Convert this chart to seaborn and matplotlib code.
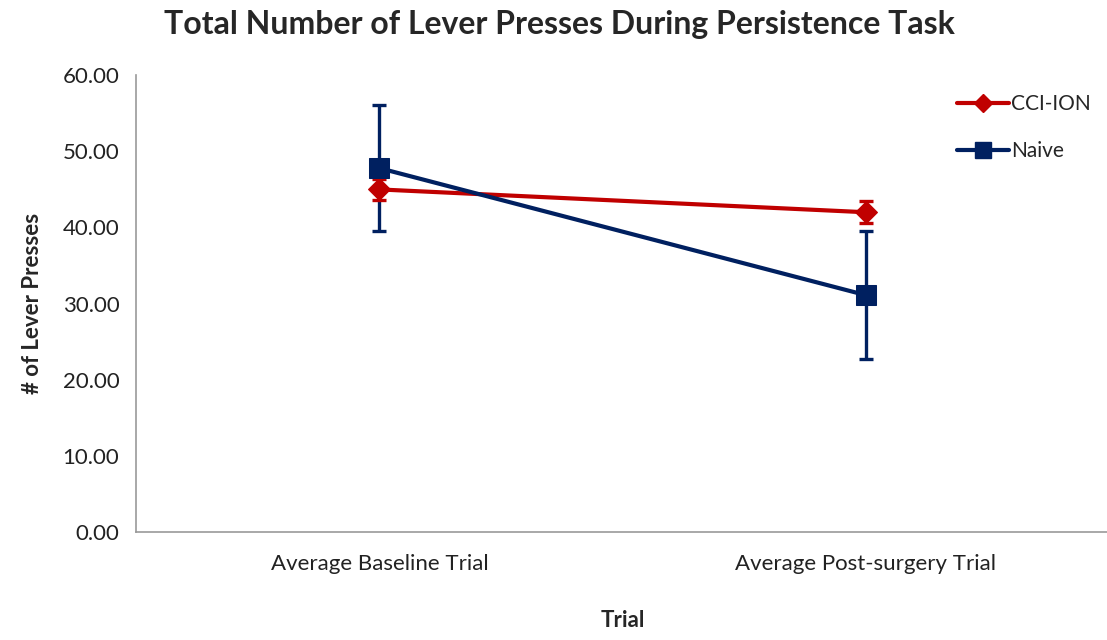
import matplotlib
matplotlib.use("Agg")
import matplotlib.pyplot as plt
import seaborn as sns
import pandas as pd
from matplotlib.lines import Line2D

trials = ["Average Baseline Trial", "Average Post-surgery Trial"]
cci_mean = [45.0, 42.0]
cci_err = [1.4, 1.45]
naive_mean = [47.8, 31.1]
naive_err = [8.3, 8.4]
yticks = [0, 10, 20, 30, 40, 50, 60]

sns.set_style("white")
plt.rcParams['font.family'] = ['Lato', 'DejaVu Sans']

red = "#C00000"
navy = "#002060"

df = pd.DataFrame({
    "Trial": trials * 2,
    "value": cci_mean + naive_mean,
    "group": ["CCI-ION"] * 2 + ["Naive"] * 2,
})

fig = plt.figure(figsize=(11.07, 6.4), dpi=100)
ax = fig.add_axes([0.1229, 0.1692, 0.879, 0.7131])

ax.errorbar(range(2), naive_mean, yerr=naive_err, fmt="none", ecolor=navy,
            elinewidth=2.4, capsize=5, capthick=2.4, zorder=2)
ax.errorbar(range(2), cci_mean, yerr=cci_err, fmt="none", ecolor=red,
            elinewidth=2.4, capsize=5, capthick=2.4, zorder=2)

sns.lineplot(data=df, x="Trial", y="value", hue="group", style="group",
             markers={"CCI-ION": "D", "Naive": "s"}, dashes=False,
             palette={"CCI-ION": red, "Naive": navy}, linewidth=3,
             ax=ax, legend=False, zorder=3)
for ln in ax.get_lines():
    if ln.get_marker() == "D":
        ln.set_markersize(11.5)
        ln.set_markeredgecolor(red)
    elif ln.get_marker() == "s":
        ln.set_markersize(14)
        ln.set_markeredgecolor(navy)

ax.set_xlim(-0.5, 1.5)
ax.set_ylim(0, 60)
ax.set_yticks(yticks)
ax.set_yticklabels([f"{v:.2f}" for v in yticks], fontsize=16, color="#222222")
ax.set_xticks([-0.5, 0.5, 1.5], minor=False)
ax.set_xticklabels(["", "", ""])
ax.set_xticks([0, 1], minor=True)
ax.set_xticklabels(trials, minor=True, fontsize=16, color="#222222")
ax.tick_params(axis="x", which="minor", length=0, pad=16)
ax.tick_params(axis="x", which="major", length=6, width=1, color="#888888", direction="out")
ax.tick_params(axis="y", length=6, width=1, color="#888888", direction="out", pad=6)

for s in ["top", "right"]:
    ax.spines[s].set_visible(False)
for s in ["left", "bottom"]:
    ax.spines[s].set_color("#999999")
    ax.spines[s].set_linewidth(1.2)

ax.set_xlabel("Trial", fontsize=16, fontweight="bold", labelpad=26)
ax.set_ylabel("# of Lever Presses", fontsize=16, fontweight="bold", labelpad=14)

handles = [
    Line2D([], [], color=red, linewidth=3, marker="D", markersize=9),
    Line2D([], [], color=navy, linewidth=3, marker="s", markersize=11),
]
ax.legend(handles, ["CCI-ION", "Naive"], loc="upper left",
          bbox_to_anchor=(0.824, 1.0), frameon=False, fontsize=15,
          handlelength=2.5, handletextpad=0.1, labelspacing=1.3)

fig.suptitle("Total Number of Lever Presses During Persistence Task",
             fontsize=23, fontweight="bold", x=0.505, y=0.985)

fig.savefig("out.png", dpi=100)
